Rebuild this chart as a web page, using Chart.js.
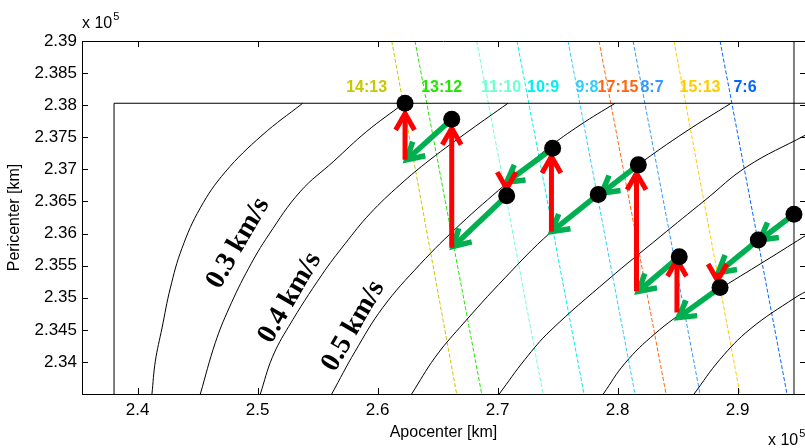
<!DOCTYPE html>
<html>
<head>
<meta charset="utf-8">
<script src="https://cdn.jsdelivr.net/npm/chart.js@4"></script>
<style>
  body { margin: 0; background: #fff; }
  canvas { display: block; }
</style>
</head>
<body>
<canvas id="chart" width="805" height="448"></canvas>
<script>
// axes, in units of 1e5 km
const xMin = 2.3536, xMax = 2.9561;
const yMin = 2.335, yMax = 2.39;
const xTicks = [2.4, 2.5, 2.6, 2.7, 2.8, 2.9];
const yTicks = [2.34, 2.345, 2.35, 2.355, 2.36, 2.365, 2.37, 2.375, 2.38, 2.385, 2.39];

// delta-v contours (apocenter, pericenter)
const curve1 = [[2.4119, 2.335], [2.4147, 2.3401], [2.4203, 2.3453], [2.4272, 2.3515], [2.4369, 2.3577], [2.4522, 2.3640], [2.4730, 2.3696], [2.5036, 2.3753], [2.5375, 2.3803]];
const curve2 = [[2.4522, 2.335], [2.4647, 2.3430], [2.4762, 2.3484], [2.4925, 2.3546], [2.5092, 2.3598], [2.5353, 2.3665], [2.5630, 2.3712], [2.5908, 2.3759], [2.6219, 2.3803]];
const curve3 = [[2.5022, 2.335], [2.5122, 2.3407], [2.5258, 2.3455], [2.5536, 2.3536], [2.5728, 2.3584], [2.5936, 2.3631], [2.6186, 2.3676], [2.6436, 2.3715], [2.6769, 2.3761], [2.7086, 2.3803]];
const curve4 = [[2.5617, 2.335], [2.5811, 2.3416], [2.6044, 2.3485], [2.6353, 2.3552], [2.6686, 2.3614], [2.7061, 2.3676], [2.7419, 2.3733], [2.7686, 2.3769], [2.7978, 2.3803]];
const curve5 = [[2.6283, 2.335], [2.6478, 2.3407], [2.6686, 2.3454], [2.7061, 2.3531], [2.7436, 2.3601], [2.7811, 2.3657], [2.8169, 2.3707], [2.8561, 2.3758], [2.8944, 2.3803]];
const curve6 = [[2.7013, 2.335], [2.7228, 2.3404], [2.7436, 2.3448], [2.7919, 2.3528], [2.8353, 2.3595], [2.8728, 2.3652], [2.9075, 2.3704], [2.9561, 2.3753]];
const curve7 = [[2.7880, 2.335], [2.8061, 2.3398], [2.8311, 2.3444], [2.8603, 2.3485], [2.8869, 2.3516], [2.9269, 2.3562], [2.9644, 2.3606]];
const curve8 = [[2.8636, 2.335], [2.8853, 2.3404], [2.9103, 2.3451], [2.9478, 2.3500], [2.9603, 2.3513]];
const curves = [curve1, curve2, curve3, curve4, curve5, curve6, curve7, curve8];

const speedLabels = ['0.3 km/s', '0.4 km/s', '0.5 km/s'];
const speedLabelX = [2.4838, 2.5269, 2.5797];
const speedLabelY = [2.3585, 2.3500, 2.3456];

// circular orbit boundary and vertical marker
const circularLimit = 2.3803;
const markerApo = 2.9469;

// resonance lines
const resLabels = ['14:13', '13:12', '11:10', '10:9', '9:8', '17:15', '8:7', '15:13', '7:6'];
const resTopX = [2.6117, 2.6311, 2.6825, 2.7161, 2.7586, 2.7844, 2.8128, 2.8469, 2.8853];
const resBottomX = [2.6658, 2.6867, 2.7378, 2.7719, 2.8144, 2.8403, 2.8686, 2.9019, 2.9411];
const resLabelX = [2.5908, 2.6533, 2.7028, 2.7378, 2.7744, 2.8003, 2.8286, 2.8686, 2.9061];
const resLabelY = 2.3828;
const resColors = ['#c8c800', '#22e600', '#70ffd0', '#00f0f0', '#33ccff', '#ff6611', '#3399ff', '#ffcc00', '#0066ff'];

// orbit states
const dotApo = [2.6228, 2.6617, 2.7458, 2.7075, 2.7838, 2.8172, 2.8513, 2.8853, 2.9172, 2.9469];
const dotPeri = [2.3803, 2.3778, 2.3733, 2.3659, 2.3661, 2.3707, 2.3564, 2.3516, 2.3590, 2.3630];

// manoeuvres
const greenFrom = [[2.6617, 2.3778], [2.7458, 2.3733], [2.7075, 2.3659], [2.8172, 2.3707], [2.7838, 2.3661], [2.8513, 2.3564], [2.9172, 2.3590], [2.8853, 2.3516], [2.9469, 2.3630]];
const greenTo = [[2.6242, 2.3715], [2.7075, 2.3680], [2.6630, 2.3580], [2.7867, 2.3663], [2.7450, 2.3603], [2.8172, 2.3510], [2.8838, 2.3539], [2.8505, 2.3469], [2.9186, 2.3590]];
const redFrom = [[2.6228, 2.3715], [2.6617, 2.3578], [2.7448, 2.3603], [2.8157, 2.3510], [2.8494, 2.3477], [2.7075, 2.3680], [2.8832, 2.3539]];
const redTo = [[2.6228, 2.3787], [2.6617, 2.3764], [2.7448, 2.3720], [2.8157, 2.3694], [2.8494, 2.3559], [2.7075, 2.3670], [2.8832, 2.3527]];

const sans = "'Liberation Sans', Arial, sans-serif";
const serif = "'Liberation Serif', 'Times New Roman', serif";

function toPoints(arr) {
    return arr.map(p => ({x: p[0], y: p[1]}));
}

function drawArrow(ctx, x0, y0, x1, y1, color, width) {
    const a = Math.atan2(y1 - y0, x1 - x0);
    const len = 19, spread = 0.52;
    ctx.save();
    ctx.strokeStyle = color;
    ctx.lineWidth = width;
    ctx.lineCap = 'butt';
    ctx.lineJoin = 'miter';
    ctx.beginPath();
    ctx.moveTo(x0, y0);
    ctx.lineTo(x1, y1);
    ctx.stroke();
    ctx.beginPath();
    ctx.moveTo(x1 - len * Math.cos(a - spread), y1 - len * Math.sin(a - spread));
    ctx.lineTo(x1, y1);
    ctx.lineTo(x1 - len * Math.cos(a + spread), y1 - len * Math.sin(a + spread));
    ctx.stroke();
    ctx.restore();
}

const datasets = [];
datasets.push({
    data: dotApo.map((x, i) => ({x, y: dotPeri[i]})),
    showLine: false,
    pointRadius: 8.5,
    pointBackgroundColor: '#000',
    pointBorderWidth: 0,
    order: 0
});
curves.forEach(c => datasets.push({
    data: toPoints(c),
    showLine: true,
    borderColor: '#000',
    borderWidth: 1,
    pointRadius: 0,
    tension: 0.4,
    order: 2
}));
datasets.push({
    data: [{x: circularLimit, y: yMin}, {x: circularLimit, y: circularLimit}, {x: 2.97, y: circularLimit}],
    showLine: true, borderColor: '#000', borderWidth: 1, pointRadius: 0, order: 2
});
datasets.push({
    data: [{x: markerApo, y: yMin}, {x: markerApo, y: yMax}],
    showLine: true, borderColor: '#808080', borderWidth: 2, pointRadius: 0, order: 2
});
resLabels.forEach((r, i) => datasets.push({
    data: [{x: resTopX[i], y: yMax}, {x: resBottomX[i], y: yMin}],
    showLine: true, borderColor: resColors[i], borderWidth: 1, borderDash: [4, 2], pointRadius: 0, order: 3
}));

const overlay = {
    id: 'overlay',
    beforeDatasetDraw(chart, args) {
        if (args.index !== 0) return;
        const ctx = chart.ctx, xs = chart.scales.x, ys = chart.scales.y;
        greenFrom.forEach((p, i) => drawArrow(ctx,
            xs.getPixelForValue(p[0]), ys.getPixelForValue(p[1]),
            xs.getPixelForValue(greenTo[i][0]), ys.getPixelForValue(greenTo[i][1]), '#00b050', 5.5));
        redFrom.forEach((p, i) => drawArrow(ctx,
            xs.getPixelForValue(p[0]), ys.getPixelForValue(p[1]),
            xs.getPixelForValue(redTo[i][0]), ys.getPixelForValue(redTo[i][1]), '#ff0000', 5));
    },
    afterDraw(chart) {
        const ctx = chart.ctx, xs = chart.scales.x, ys = chart.scales.y;
        const {left, right, top, bottom} = chart.chartArea;
        ctx.save();
        // box and inward ticks
        ctx.strokeStyle = '#000';
        ctx.lineWidth = 1;
        ctx.beginPath();
        ctx.moveTo(left, top + 0.5);
        ctx.lineTo(right, top + 0.5);
        xTicks.forEach(v => {
            const px = Math.round(xs.getPixelForValue(v)) + 0.5;
            ctx.moveTo(px, bottom);
            ctx.lineTo(px, bottom - 6);
            ctx.moveTo(px, top);
            ctx.lineTo(px, top + 6);
        });
        yTicks.forEach(v => {
            const py = Math.round(ys.getPixelForValue(v)) + 0.5;
            ctx.moveTo(left, py);
            ctx.lineTo(left + 6, py);
            ctx.moveTo(right + 1, py);
            ctx.lineTo(right - 5, py);
        });
        ctx.stroke();

        // resonance labels
        ctx.font = 'bold 16px ' + sans;
        ctx.textAlign = 'center';
        ctx.textBaseline = 'middle';
        resLabels.forEach((r, i) => {
            ctx.fillStyle = resColors[i];
            ctx.fillText(r, xs.getPixelForValue(resLabelX[i]), ys.getPixelForValue(resLabelY));
        });

        // contour labels
        ctx.fillStyle = '#000';
        ctx.font = 'bold 28px ' + serif;
        speedLabels.forEach((s, i) => {
            ctx.save();
            ctx.translate(xs.getPixelForValue(speedLabelX[i]), ys.getPixelForValue(speedLabelY[i]));
            ctx.rotate(-60 * Math.PI / 180);
            ctx.fillText(s, 0, 0);
            ctx.restore();
        });

        // exponent notes
        ctx.textAlign = 'left';
        ctx.textBaseline = 'alphabetic';
        ctx.font = '16px ' + sans;
        ctx.fillText('x 10', left, top - 13);
        const w1 = ctx.measureText('x 10').width;
        ctx.fillText('x 10', right - 37, bottom + 51);
        const w2 = ctx.measureText('x 10').width;
        ctx.font = '11px ' + sans;
        ctx.fillText('5', left + w1 + 1, top - 21);
        ctx.fillText('5', right - 37 + w2 + 1, bottom + 43);
        ctx.restore();
    }
};

new Chart(document.getElementById('chart'), {
    type: 'scatter',
    data: {datasets},
    options: {
        responsive: false,
        animation: false,
        events: [],
        layout: {autoPadding: false, padding: {top: 41, right: 0, left: 0, bottom: 0}},
        plugins: {legend: {display: false}, tooltip: {enabled: false}},
        scales: {
            x: {
                type: 'linear',
                min: xMin,
                max: xMax,
                afterFit: s => { s.height = 54; s.paddingLeft = 0; s.paddingRight = 0; },
                afterBuildTicks: s => { s.ticks = xTicks.map(v => ({value: v})); },
                grid: {display: false, drawTicks: false},
                border: {display: true, color: '#000', width: 1},
                ticks: {color: '#000', padding: 6, font: {family: sans, size: 17}, callback: v => String(v)},
                title: {display: true, text: 'Apocenter [km]', color: '#000', font: {family: sans, size: 16}, padding: {top: 0, bottom: 6}}
            },
            y: {
                type: 'linear',
                min: yMin,
                max: yMax,
                afterFit: s => { s.width = 82; s.paddingTop = 0; s.paddingBottom = 0; },
                afterBuildTicks: s => { s.ticks = yTicks.map(v => ({value: v})); },
                grid: {display: false, drawTicks: false},
                border: {display: true, color: '#000', width: 1},
                ticks: {color: '#000', padding: 5, font: {family: sans, size: 17}, callback: v => String(v)},
                title: {display: true, text: 'Pericenter [km]', color: '#000', font: {family: sans, size: 16}, padding: {top: 5, bottom: 0}}
            }
        }
    },
    plugins: [overlay]
});
</script>
</body>
</html>
